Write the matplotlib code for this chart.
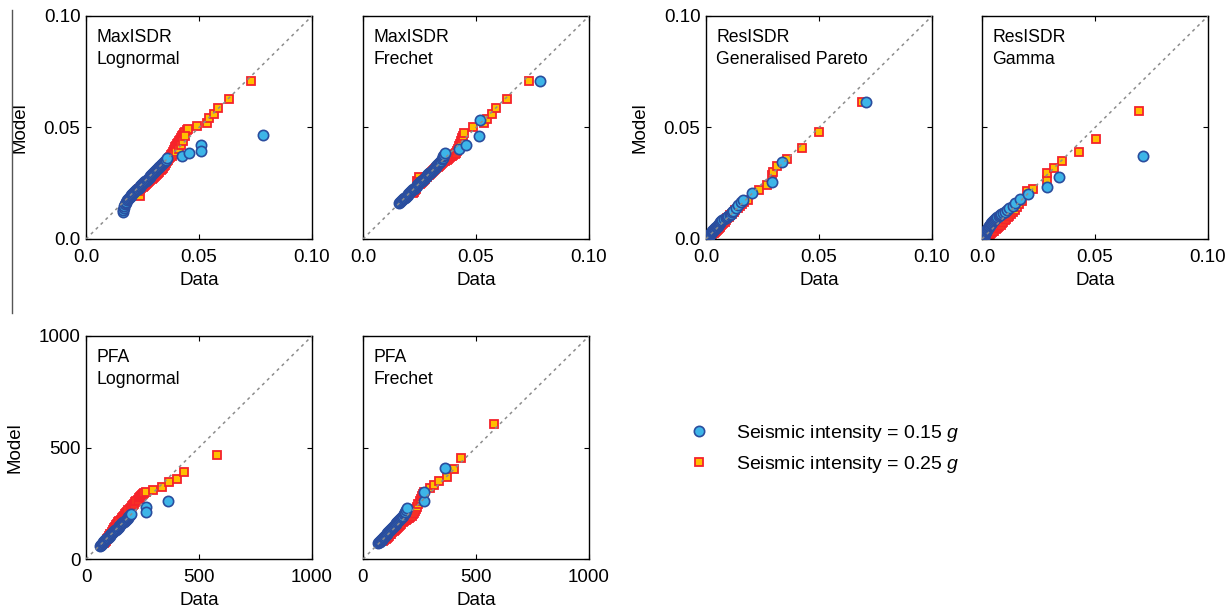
import matplotlib
matplotlib.use("Agg")
import matplotlib.pyplot as plt
from matplotlib.lines import Line2D

plt.rcParams['font.family'] = ['Liberation Sans', 'DejaVu Sans']
plt.rcParams['mathtext.fontset'] = 'custom'
plt.rcParams['mathtext.rm'] = 'Liberation Sans'
plt.rcParams['mathtext.it'] = 'Liberation Sans:italic'

# --- MaxISDR, lognormal fit ---
maxisdr_logn_x15 = [0.0162, 0.0164, 0.0166, 0.0169, 0.0172, 0.0175, 0.0178, 0.0181, 0.0185, 0.0189,
                    0.0193, 0.0197, 0.0201, 0.0205, 0.0209, 0.0213, 0.0217, 0.0221, 0.0225, 0.0229,
                    0.0233, 0.0237, 0.0241, 0.0245, 0.0249, 0.0253, 0.0257, 0.0261, 0.0265, 0.0269,
                    0.0273, 0.0277, 0.0281, 0.0285, 0.0289, 0.0293, 0.0297, 0.0301, 0.0305, 0.0309,
                    0.0313, 0.0317, 0.0321, 0.0325, 0.0329, 0.0333, 0.0337, 0.0341, 0.0345, 0.0349,
                    0.0353, 0.0358, 0.0423, 0.0457, 0.0509, 0.0509, 0.0785]
maxisdr_logn_y15 = [0.0122, 0.0132, 0.0140, 0.0148, 0.0155, 0.0161, 0.0167, 0.0173, 0.0179, 0.0184,
                    0.0189, 0.0194, 0.0198, 0.0202, 0.0206, 0.0210, 0.0214, 0.0218, 0.0222, 0.0226,
                    0.0230, 0.0234, 0.0238, 0.0242, 0.0246, 0.0250, 0.0254, 0.0258, 0.0262, 0.0266,
                    0.0270, 0.0274, 0.0278, 0.0283, 0.0287, 0.0292, 0.0296, 0.0301, 0.0305, 0.0309,
                    0.0313, 0.0317, 0.0321, 0.0325, 0.0329, 0.0333, 0.0337, 0.0341, 0.0346, 0.0350,
                    0.0355, 0.0362, 0.0372, 0.0384, 0.0421, 0.0396, 0.0466]
maxisdr_logn_x25 = [0.0239, 0.0232, 0.0236, 0.0240, 0.0245, 0.0250, 0.0255, 0.0260, 0.0265, 0.0270,
                    0.0275, 0.0280, 0.0285, 0.0290, 0.0295, 0.0300, 0.0305, 0.0310, 0.0315, 0.0320,
                    0.0325, 0.0330, 0.0335, 0.0340, 0.0345, 0.0350, 0.0355, 0.0360, 0.0364, 0.0368,
                    0.0372, 0.0376, 0.0380, 0.0384, 0.0388, 0.0392, 0.0396, 0.0400, 0.0404, 0.0408,
                    0.0412, 0.0416, 0.0420, 0.0425, 0.0430, 0.0435, 0.0440, 0.0446, 0.0452,
                    0.0380, 0.0390, 0.0400, 0.0410, 0.0420, 0.0430, 0.0440,
                    0.0490, 0.0537, 0.0546, 0.0566, 0.0586, 0.0634, 0.0730]
maxisdr_logn_y25 = [0.0193, 0.0215, 0.0222, 0.0226, 0.0230, 0.0234, 0.0238, 0.0242, 0.0246, 0.0250,
                    0.0254, 0.0258, 0.0263, 0.0267, 0.0272, 0.0277, 0.0282, 0.0287, 0.0292, 0.0297,
                    0.0302, 0.0308, 0.0314, 0.0320, 0.0327, 0.0334, 0.0341, 0.0348, 0.0355, 0.0362,
                    0.0369, 0.0376, 0.0383, 0.0390, 0.0397, 0.0404, 0.0411, 0.0418, 0.0425, 0.0432,
                    0.0439, 0.0446, 0.0453, 0.0460, 0.0467, 0.0474, 0.0481, 0.0488, 0.0495,
                    0.0372, 0.0380, 0.0392, 0.0405, 0.0420, 0.0440, 0.0460,
                    0.0507, 0.0522, 0.0541, 0.0561, 0.0586, 0.0626, 0.0710]

# --- MaxISDR, Frechet fit ---
maxisdr_frec_x15 = [0.0161, 0.0165, 0.0169, 0.0173, 0.0177, 0.0181, 0.0185, 0.0189, 0.0193, 0.0197,
                    0.0201, 0.0205, 0.0209, 0.0213, 0.0217, 0.0221, 0.0225, 0.0229, 0.0233, 0.0237,
                    0.0241, 0.0245, 0.0249, 0.0253, 0.0257, 0.0261, 0.0265, 0.0269, 0.0273, 0.0277,
                    0.0281, 0.0285, 0.0289, 0.0293, 0.0297, 0.0301, 0.0305, 0.0309, 0.0313, 0.0317,
                    0.0321, 0.0325, 0.0329, 0.0333, 0.0337, 0.0341, 0.0345, 0.0349, 0.0353, 0.0356,
                    0.0360, 0.0364, 0.0424, 0.0456, 0.0513, 0.0516, 0.0784]
maxisdr_frec_y15 = [0.0162, 0.0166, 0.0170, 0.0174, 0.0178, 0.0182, 0.0186, 0.0190, 0.0194, 0.0198,
                    0.0202, 0.0206, 0.0210, 0.0214, 0.0218, 0.0222, 0.0226, 0.0230, 0.0234, 0.0238,
                    0.0242, 0.0246, 0.0250, 0.0254, 0.0258, 0.0262, 0.0266, 0.0270, 0.0274, 0.0278,
                    0.0282, 0.0286, 0.0290, 0.0294, 0.0298, 0.0302, 0.0306, 0.0310, 0.0314, 0.0318,
                    0.0322, 0.0326, 0.0330, 0.0337, 0.0342, 0.0347, 0.0352, 0.0357, 0.0362, 0.0372,
                    0.0378, 0.0384, 0.0402, 0.0421, 0.0462, 0.0534, 0.0710]
maxisdr_frec_x25 = [0.0222, 0.0226, 0.0230, 0.0234, 0.0240, 0.0246, 0.0243, 0.0250, 0.0255, 0.0260,
                    0.0265, 0.0270, 0.0275, 0.0280, 0.0285, 0.0290, 0.0295, 0.0300, 0.0305, 0.0310,
                    0.0315, 0.0320, 0.0325, 0.0330, 0.0335, 0.0340, 0.0345, 0.0350, 0.0355, 0.0360,
                    0.0365, 0.0370, 0.0375, 0.0380, 0.0385, 0.0390, 0.0395, 0.0400, 0.0405, 0.0410,
                    0.0415, 0.0420, 0.0425, 0.0430, 0.0435, 0.0440, 0.0444, 0.0448,
                    0.0487, 0.0535, 0.0550, 0.0572, 0.0587, 0.0639, 0.0735]
maxisdr_frec_y25 = [0.0205, 0.0212, 0.0220, 0.0226, 0.0262, 0.0280, 0.0255, 0.0248, 0.0252, 0.0257,
                    0.0262, 0.0266, 0.0271, 0.0276, 0.0280, 0.0285, 0.0290, 0.0294, 0.0299, 0.0303,
                    0.0308, 0.0312, 0.0317, 0.0321, 0.0326, 0.0330, 0.0335, 0.0339, 0.0344, 0.0348,
                    0.0352, 0.0356, 0.0360, 0.0364, 0.0367, 0.0370, 0.0372, 0.0375, 0.0380, 0.0387,
                    0.0395, 0.0405, 0.0416, 0.0428, 0.0440, 0.0452, 0.0463, 0.0474,
                    0.0501, 0.0519, 0.0537, 0.0559, 0.0589, 0.0628, 0.0710]

# --- ResISDR, generalised Pareto fit ---
resisdr_gp_x15 = [0.0005, 0.0007, 0.0009, 0.0011, 0.0013, 0.0015, 0.0017, 0.0019, 0.0021, 0.0023,
                  0.0025, 0.0027, 0.0030, 0.0033, 0.0036, 0.0039, 0.0042, 0.0045, 0.0048, 0.0051,
                  0.0054, 0.0057, 0.0060, 0.0063, 0.0066, 0.0072, 0.0080, 0.0088, 0.0095, 0.0099,
                  0.0104, 0.0110, 0.0116, 0.0121, 0.0132, 0.0143, 0.0154, 0.0165, 0.0202, 0.0291,
                  0.0335, 0.0708]
resisdr_gp_y15 = [0.0000, 0.0004, 0.0008, 0.0011, 0.0014, 0.0017, 0.0020, 0.0023, 0.0026, 0.0029,
                  0.0032, 0.0035, 0.0038, 0.0041, 0.0044, 0.0047, 0.0050, 0.0053, 0.0056, 0.0060,
                  0.0064, 0.0068, 0.0072, 0.0076, 0.0079, 0.0083, 0.0088, 0.0093, 0.0098, 0.0102,
                  0.0108, 0.0114, 0.0121, 0.0127, 0.0140, 0.0152, 0.0164, 0.0175, 0.0208, 0.0257,
                  0.0347, 0.0616]
resisdr_gp_x25 = [0.0008, 0.0012, 0.0016, 0.0020, 0.0024, 0.0028, 0.0032, 0.0036, 0.0040, 0.0044,
                  0.0048, 0.0052, 0.0056, 0.0060, 0.0064, 0.0068, 0.0072, 0.0077, 0.0082, 0.0088,
                  0.0094, 0.0100, 0.0107, 0.0114, 0.0122, 0.0130, 0.0140, 0.0150, 0.0160, 0.0170,
                  0.0187, 0.0236, 0.0269, 0.0291, 0.0295, 0.0313, 0.0357, 0.0423, 0.0500, 0.0692]
resisdr_gp_y25 = [0.0003, 0.0006, 0.0009, 0.0013, 0.0017, 0.0021, 0.0025, 0.0029, 0.0033, 0.0037,
                  0.0041, 0.0045, 0.0049, 0.0053, 0.0057, 0.0061, 0.0066, 0.0072, 0.0078, 0.0085,
                  0.0092, 0.0099, 0.0106, 0.0113, 0.0120, 0.0128, 0.0137, 0.0147, 0.0157, 0.0167,
                  0.0175, 0.0220, 0.0242, 0.0287, 0.0302, 0.0329, 0.0359, 0.0407, 0.0478, 0.0616]

# --- ResISDR, gamma fit ---
resisdr_gam_x15 = [0.0005, 0.0007, 0.0009, 0.0011, 0.0013, 0.0015, 0.0017, 0.0019, 0.0021, 0.0024,
                   0.0027, 0.0030, 0.0033, 0.0036, 0.0039, 0.0042, 0.0046, 0.0050, 0.0054, 0.0058,
                   0.0063, 0.0068, 0.0074, 0.0080, 0.0086, 0.0093, 0.0100, 0.0109, 0.0120, 0.0135,
                   0.0146, 0.0168, 0.0205, 0.0289, 0.0339, 0.0714]
resisdr_gam_y15 = [0.0000, 0.0006, 0.0012, 0.0018, 0.0023, 0.0028, 0.0033, 0.0037, 0.0041, 0.0045,
                   0.0050, 0.0055, 0.0059, 0.0064, 0.0068, 0.0072, 0.0077, 0.0082, 0.0086, 0.0090,
                   0.0094, 0.0099, 0.0104, 0.0108, 0.0113, 0.0118, 0.0123, 0.0130, 0.0138, 0.0150,
                   0.0160, 0.0178, 0.0202, 0.0232, 0.0279, 0.0372]
resisdr_gam_x25 = [0.0010, 0.0015, 0.0020, 0.0025, 0.0030, 0.0035, 0.0040, 0.0045, 0.0050, 0.0055,
                   0.0060, 0.0065, 0.0070, 0.0076, 0.0082, 0.0088, 0.0094, 0.0100, 0.0107, 0.0114,
                   0.0121, 0.0128, 0.0136, 0.0145, 0.0155, 0.0165, 0.0175, 0.0200, 0.0227, 0.0286,
                   0.0289, 0.0319, 0.0355, 0.0430, 0.0504, 0.0696]
resisdr_gam_y25 = [0.0002, 0.0006, 0.0010, 0.0014, 0.0018, 0.0022, 0.0026, 0.0030, 0.0034, 0.0038,
                   0.0043, 0.0048, 0.0053, 0.0059, 0.0065, 0.0071, 0.0077, 0.0083, 0.0090, 0.0097,
                   0.0104, 0.0112, 0.0121, 0.0131, 0.0143, 0.0157, 0.0172, 0.0215, 0.0222, 0.0265,
                   0.0295, 0.0320, 0.0351, 0.0391, 0.0448, 0.0574]

# --- PFA, lognormal fit ---
pfa_logn_x15 = [62, 65, 68, 71, 74, 77, 80, 83, 86, 89, 92, 96, 100, 104, 108, 112, 116, 120, 124,
                128, 132, 136, 140, 144, 148, 152, 156, 160, 164, 168, 172, 176, 180, 184, 188, 192,
                196, 200, 265, 265, 364]
pfa_logn_y15 = [57, 61, 65, 69, 73, 77, 80, 83, 86, 89, 92, 96, 100, 104, 108, 112, 116, 120, 124,
                128, 132, 136, 140, 144, 148, 152, 156, 160, 164, 168, 172, 176, 180, 184, 188, 193,
                198, 203, 231, 213, 262]
pfa_logn_x25 = [78, 83, 88, 93, 98, 103, 108, 113, 118, 123, 128, 133, 138, 143, 148, 153, 158, 163,
                168, 173, 178, 183, 188, 193, 198, 203, 208, 213, 218, 223, 228, 233, 238, 243, 248,
                253, 258, 265, 298, 335, 369, 401, 434, 581]
pfa_logn_y25 = [70, 76, 82, 88, 95, 103, 112, 121, 129, 137, 144, 151, 158, 164, 170, 176, 182, 188,
                194, 200, 206, 212, 218, 224, 230, 236, 242, 248, 254, 260, 266, 272, 278, 284, 289,
                293, 297, 302, 309, 324, 344, 358, 392, 466]

# --- PFA, Frechet fit ---
pfa_frec_x15 = [68, 71, 74, 77, 80, 83, 86, 89, 92, 95, 98, 101, 104, 108, 112, 116, 120, 124, 128,
                132, 136, 140, 144, 148, 152, 156, 160, 164, 168, 172, 176, 180, 184, 188, 191, 194,
                268, 271, 364]
pfa_frec_y15 = [71, 74, 77, 80, 83, 86, 90, 93, 97, 100, 104, 107, 111, 115, 120, 124, 129, 133, 138,
                142, 147, 151, 156, 160, 165, 170, 175, 180, 185, 190, 195, 200, 206, 213, 220, 228,
                258, 302, 408]
pfa_frec_x25 = [90, 95, 100, 105, 110, 115, 120, 125, 130, 135, 140, 145, 150, 155, 160, 165, 170,
                175, 180, 185, 190, 195, 200, 205, 210, 215, 220, 225, 230, 235, 240, 245, 250, 255,
                260, 265, 270, 298, 316, 335, 372, 404, 434, 579]
pfa_frec_y25 = [82, 86, 91, 96, 100, 105, 110, 114, 119, 124, 129, 134, 139, 144, 149, 154, 159,
                164, 169, 174, 177, 180, 183, 186, 190, 195, 201, 208, 215, 224, 234, 246, 258, 270,
                282, 292, 300, 317, 332, 350, 369, 402, 451, 607]

panels = [
    ("MaxISDR\nLognormal", maxisdr_logn_x15, maxisdr_logn_y15, maxisdr_logn_x25, maxisdr_logn_y25),
    ("MaxISDR\nFrechet", maxisdr_frec_x15, maxisdr_frec_y15, maxisdr_frec_x25, maxisdr_frec_y25),
    ("ResISDR\nGeneralised Pareto", resisdr_gp_x15, resisdr_gp_y15, resisdr_gp_x25, resisdr_gp_y25),
    ("ResISDR\nGamma", resisdr_gam_x15, resisdr_gam_y15, resisdr_gam_x25, resisdr_gam_y25),
    ("PFA\nLognormal", pfa_logn_x15, pfa_logn_y15, pfa_logn_x25, pfa_logn_y25),
    ("PFA\nFrechet", pfa_frec_x15, pfa_frec_y15, pfa_frec_x25, pfa_frec_y25),
]

drift_ticks = [0.0, 0.05, 0.10]
drift_labels = ["0.0", "0.05", "0.10"]
pfa_ticks = [0, 500, 1000]
pfa_labels = ["0", "500", "1000"]

W, H = 1231, 612
fig = plt.figure(figsize=(W / 100, H / 100), dpi=100)

# axes boxes in pixels: left, top, width, height
boxes = [(86, 16, 226, 223), (363, 16, 226, 223), (706, 16, 226, 223), (982, 16, 226, 223),
         (86, 336, 226, 223), (363, 336, 226, 223)]

circ = dict(marker='o', ms=7.4, mfc='#3DB5E8', mec='#2A4D9E', mew=1.2, ls='none')
sq = dict(marker='s', ms=6.0, mfc='#FFBF00', mec='#F5222B', mew=1.3, ls='none')

for i, (name, x15, y15, x25, y25) in enumerate(panels):
    l, t, w, h = boxes[i]
    ax = fig.add_axes([l / W, 1 - (t + h) / H, w / W, h / H])
    if i < 4:
        lim, ticks, labels = 0.1, drift_ticks, drift_labels
    else:
        lim, ticks, labels = 1000, pfa_ticks, pfa_labels
    ax.plot(x25, y25, zorder=2, **sq)
    ax.plot(x15, y15, zorder=3, **circ)
    # 1:1 reference line sits over the markers
    ax.plot([0, lim], [0, lim], ls=(0, (2, 2.5)), color='#8c8c8c', lw=1.1, zorder=4)
    ax.set_xlim(0, lim)
    ax.set_ylim(0, lim)
    ax.set_xticks(ticks)
    ax.set_xticklabels(labels)
    ax.set_yticks(ticks)
    if i in (1, 3, 5):
        ax.set_yticklabels([])
    else:
        ax.set_yticklabels(labels)
        ax.set_ylabel("Model", fontsize=13.5, labelpad=11)
    ax.set_xlabel("Data", fontsize=13.5, labelpad=4)
    ax.tick_params(direction='in', length=3.5, width=0.8, top=True, right=True,
                   labelsize=13.5)
    ax.tick_params(axis='x', pad=7.5)
    ax.tick_params(axis='y', pad=4)
    for s in ax.spines.values():
        s.set_linewidth(1.0)
    ax.text(0.045, 0.94, name, transform=ax.transAxes, ha='left', va='top',
            fontsize=12.7, linespacing=1.35)

handles = [Line2D([], [], **circ), Line2D([], [], **sq)]
labels = ["Seismic intensity = 0.15 $g$", "Seismic intensity = 0.25 $g$"]
fig.legend(handles, labels, loc='center left', bbox_to_anchor=(690 / W, 1 - 449 / H),
           frameon=False, fontsize=14, handlelength=0.9, handletextpad=1.45,
           labelspacing=0.5, borderpad=0, borderaxespad=0)

# thin rule down the left edge of the top row
fig.add_artist(Line2D([12 / W, 12 / W], [1 - 10 / H, 1 - 313 / H], color='#555555', lw=1.0))

fig.savefig("out.png", dpi=100)
